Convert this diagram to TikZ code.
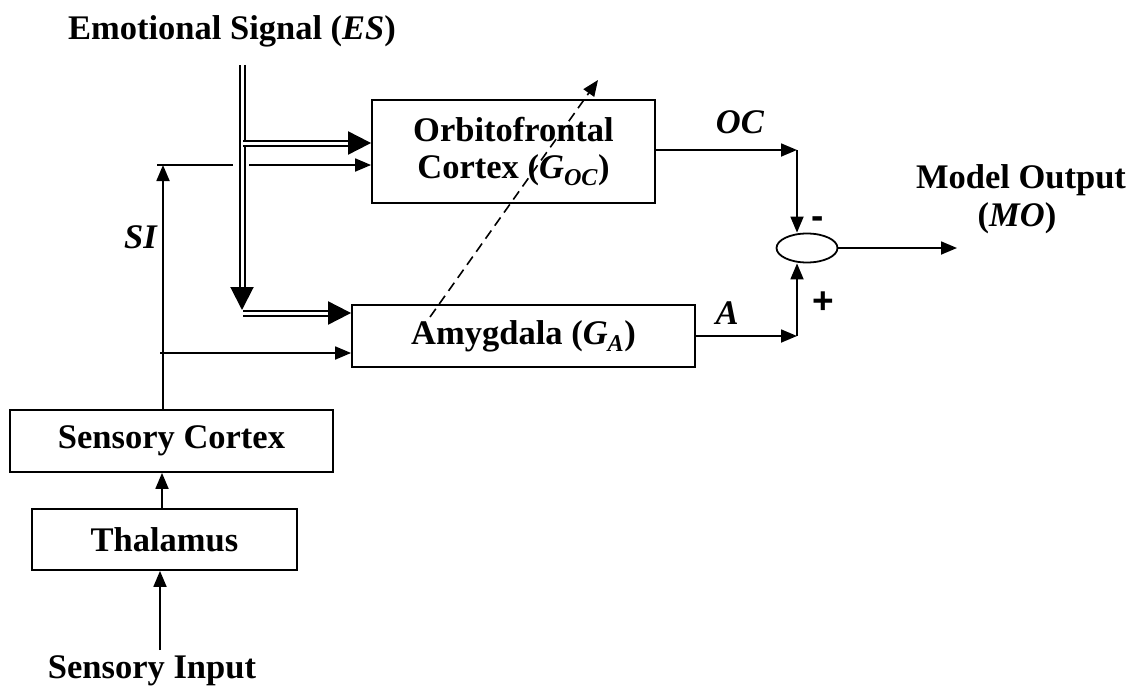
\documentclass[tikz,border=0pt]{standalone}
\usepackage{fontspec}
\setmainfont{Liberation Serif}
\newfontfamily\signfont{Liberation Sans}
\usetikzlibrary{shapes.geometric,arrows.meta}

\begin{document}
\begin{tikzpicture}[
x=1pt, y=1pt,
every node/.style={font=\fontsize{34.5}{37}\selectfont\bfseries, align=center, inner sep=0pt},
block/.style={draw, line width=1.8pt},
sig/.style={line width=1.8pt, -{Triangle[length=16pt,width=13pt]}},
dsig/.style={double, double distance=3pt, line width=2pt, -{Triangle[length=23pt,width=23pt]}},
signlab/.style={anchor=base, font=\fontsize{37}{40}\selectfont\bfseries\signfont},
>=latex
]
\useasboundingbox (0,0) rectangle (1131,-690);

% blocks
\node (ofc) [block, minimum width=283pt, minimum height=103pt] at (513.5,-151.5) {Orbitofrontal\\Cortex (\textit{G\textsubscript{OC}})};
\node (amy) [block, minimum width=343pt, minimum height=62pt] at (523.5,-336) {Amygdala (\textit{G\textsubscript{A}})};
\node (sc) [block, minimum width=323pt, minimum height=62pt] at (171.5,-441) {Sensory Cortex};
\node (thal) [block, minimum width=265pt, minimum height=61pt] at (164.5,-539.5) {Thalamus};
\node (sum) [draw, ellipse, line width=1.8pt, minimum width=61pt, minimum height=29pt] at (807,-248) {};

% texts
\node (es) [anchor=base] at (232,-40) {Emotional Signal (\textit{ES})};
\node (sin) [anchor=base] at (152,-678) {Sensory Input};
\node (mo) [anchor=base] at (1021,-188) {Model Output};
\node (mo2) [anchor=base] at (1017,-226) {(\textit{MO})};
\node (silab) [anchor=base east] at (158,-248) {\textit{SI}};
\node (oclab) [anchor=base] at (740,-133) {\textit{OC}};
\node (alab) [anchor=base] at (727,-324) {\textit{A}};
\node (minus) [signlab] at (818,-228) {-};
\node (plus) [signlab] at (823,-313) {+};

% corners
\coordinate (estop) at (242,-65);
\coordinate (esa) at (243,-143);
\coordinate (esb) at (243,-313);
\coordinate (sitop) at (163,-165);
\coordinate (sigap) at (233,-165);
\coordinate (sigo) at (249,-165);
\coordinate (silow) at (160,-353);
\coordinate (inp) at (160,-650);
\coordinate (occ) at (797,-150);
\coordinate (ac) at (797,-336);
\coordinate (moend) at (957,-248);
\coordinate (dfrom) at (430,-317);
\coordinate (dto) at (598,-80);

% emotional signal
\draw[dsig] (estop) -- (242,-310);
\draw[dsig] (esa) -- (ofc.west |- esa);
\draw[dsig] (esb) -- (amy.west |- esb);

% sensory path
\draw[sig] (inp) -- (inp |- thal.south);
\draw[sig] (thal.north -| 162,0) -- (sc.south -| 162,0);
\draw[sig] (sc.north -| sitop) -- (sitop);
\draw[line width=1.8pt] (157,-165) -- (sigap);
\draw[sig] (sigo) -- (ofc.west |- sigo);
\draw[sig] (silow) -- (amy.west |- silow);

% outputs
\draw[sig] (ofc.east |- occ) -- (occ);
\draw[sig] (occ) -- (occ |- sum.north);
\draw[sig] (amy.east |- ac) -- (ac);
\draw[sig] (ac) -- (ac |- sum.south);
\draw[sig] (sum.east) -- (moend);

% learning
\draw[sig, line width=1.6pt, dash pattern=on 10pt off 6pt] (dfrom) -- (dto);

\end{tikzpicture}
\end{document}
